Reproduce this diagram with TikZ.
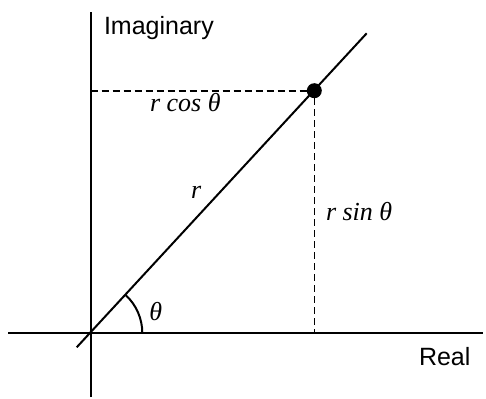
\documentclass[tikz,border=0pt]{standalone}
\usepackage{fontspec}
\setmainfont{Liberation Serif}
\newfontfamily\axisfont{Liberation Sans}
\begin{document}
\begin{tikzpicture}[line join = round, x=.5pt, y=.5pt, line width=1pt, font=\fontsize{13}{15}\selectfont,
	lbl/.style={inner sep=0, anchor=base west},
	axlbl/.style={lbl, font=\axisfont\fontsize{12.5}{15}\selectfont},
	dsh/.style={line width=.8pt, dash pattern=on 3.5pt off 2pt}]
	\useasboundingbox (-90.7,-65) rectangle (395.3,333);
	\def\ang{47.3};
	\coordinate (O) at (0,0);
	\coordinate (P) at (223.6,242.3);
	\coordinate (Px) at (223.6,0);
	\coordinate (Py) at (0,242.3);
	\draw (-82.4,0)--(392,0) (0,-64)--(0,321.3);
	\draw (-14,-14.3)--(276,299.7);
	\draw[dsh] (Py)--(P)--(Px);
	\fill (P) circle (3.75pt);
	\draw (51.6,0) arc (0:\ang:51.6);
	\node[axlbl] (im) at (12.3,298.7) {Imaginary};
	\node[axlbl] (re) at (327.3,-32.7) {Real};
	\node[lbl] (rc) at (58.3,221.3) {\itshape r cos θ};
	\node[lbl] (rr) at (99.3,135) {\itshape r};
	\node[lbl] (rs) at (234.3,113) {\itshape r sin θ};
	\node[lbl] (th) at (57.6,13) {\itshape θ};
\end{tikzpicture}
\end{document}
